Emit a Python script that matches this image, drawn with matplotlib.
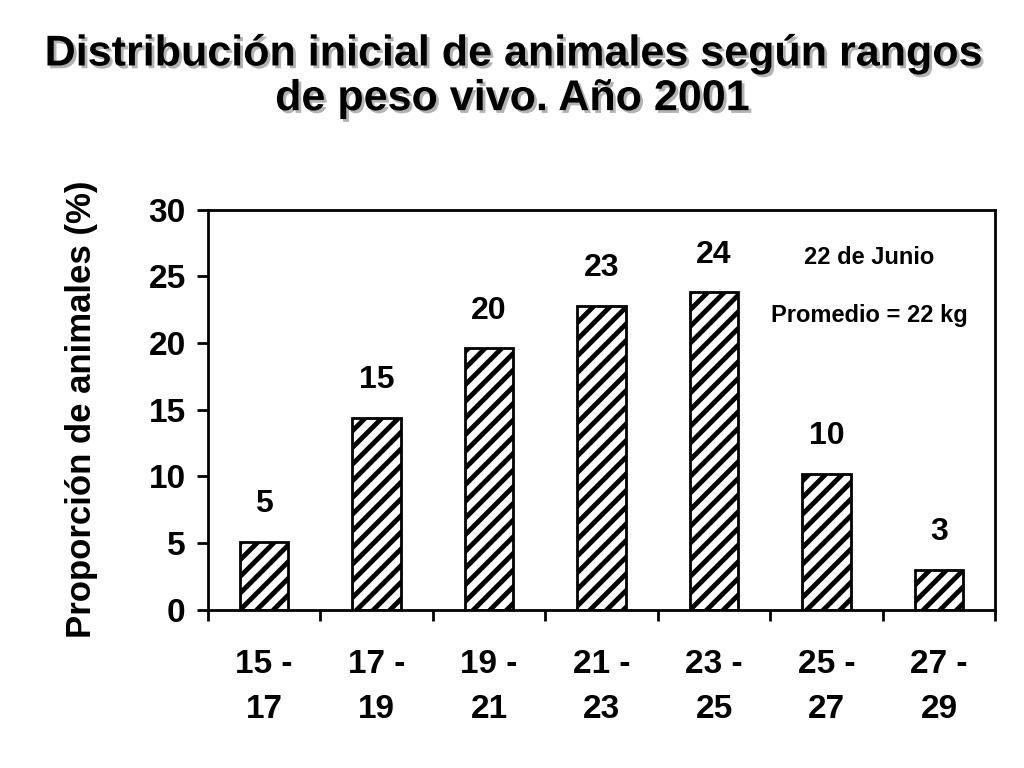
import matplotlib
matplotlib.use("Agg")
import matplotlib.pyplot as plt
import matplotlib.patheffects as pe
import numpy as np

categories = ["15 -\n17", "17 -\n19", "19 -\n21", "21 -\n23", "23 -\n25", "25 -\n27", "27 -\n29"]
values = [5.1, 14.4, 19.6, 22.8, 23.8, 10.2, 3.0]
labels = ["5", "15", "20", "23", "24", "10", "3"]

plt.rcParams["font.family"] = "Liberation Sans"
plt.rcParams["font.weight"] = "bold"
plt.rcParams["hatch.linewidth"] = 3.5

fig = plt.figure(figsize=(10.24, 7.68), dpi=100)
ax = fig.add_axes([0.203, 0.206, 0.769, 0.521])
x = np.arange(len(values))
ax.bar(x, values, width=0.43, color="white", edgecolor="black", hatch="//", linewidth=2)
for xi, v, l in zip(x, values, labels):
    ax.text(xi, v + 2.8, l, ha="center", va="center", fontsize=23, fontweight="bold")
ax.set_xlim(-0.5, len(values) - 0.5)
ax.set_ylim(0, 30)
ax.set_yticks([0, 5, 10, 15, 20, 25, 30])
ax.set_xticks(np.arange(-0.5, len(values), 1.0))
ax.set_xticklabels([])
ax.set_xticks(x, minor=True)
ax.set_xticklabels(categories, minor=True, fontsize=24, fontweight="bold", linespacing=1.6)
ax.tick_params(axis="x", which="minor", length=0, pad=28)
ax.tick_params(axis="x", which="major", direction="out", length=8, width=2)
ax.tick_params(axis="y", direction="out", length=8, width=2, labelsize=24, pad=8)
for s in ax.spines.values():
    s.set_linewidth(2)
ax.set_ylabel("Proporción de animales (%)", fontsize=25, fontweight="bold", labelpad=36)
ax.text(0.84, 0.865, "22 de Junio", transform=ax.transAxes, ha="center", fontsize=17, fontweight="bold")
ax.text(0.84, 0.72, "Promedio = 22 kg", transform=ax.transAxes, ha="center", fontsize=17, fontweight="bold")
fig.text(0.5, 0.9, "Distribución inicial de animales según rangos\nde peso vivo. Año 2001", ha="center", va="center",
         fontsize=31, fontweight="bold", linespacing=1.15,
         path_effects=[pe.withSimplePatchShadow(offset=(2, -2), shadow_rgbFace="gray", alpha=0.6)])
fig.savefig("out.png", dpi=100)
